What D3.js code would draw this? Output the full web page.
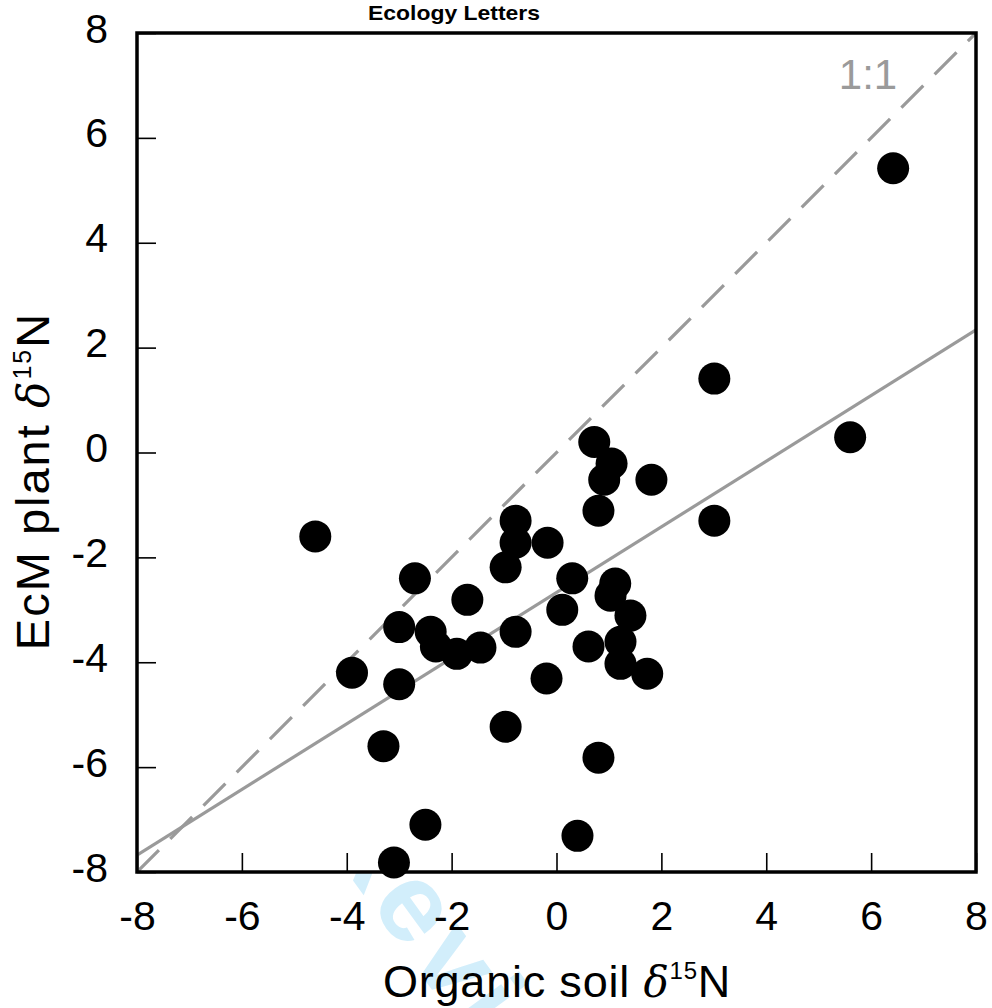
<!DOCTYPE html>
<html><head><meta charset="utf-8">
<script src="https://cdn.jsdelivr.net/npm/d3@7"></script>
<style>
html,body{margin:0;padding:0;background:#fff;}
svg{display:block;font-family:"Liberation Sans",Arial,Helvetica,sans-serif;}
</style></head>
<body>
<svg id="chart" width="992" height="1008"></svg>
<script>
// Data
const soilN = [-4.6,-3.9,-3.3,-3.1,-3.0,-3.0,-2.7,-2.5,-2.4,-2.3,-1.9,-1.7,-1.45,-0.97,-0.97,-0.78,-0.78,-0.78,-0.19,-0.17,0.11,0.3,0.4,0.61,0.72,0.8,0.8,0.91,1.05,1.03,1.12,1.22,1.22,1.41,1.73,1.81,3.01,3.01,5.6,6.42];
const plantN = [-1.6,-4.2,-5.6,-7.82,-3.33,-4.42,-2.4,-7.1,-3.42,-3.7,-3.84,-2.81,-3.72,-2.19,-5.23,-1.3,-1.72,-3.42,-4.31,-1.72,-3.0,-2.4,-7.31,-3.7,0.2,-5.82,-1.11,-0.52,-0.21,-2.73,-2.5,-3.61,-4.03,-3.11,-4.22,-0.52,1.41,-1.3,0.29,5.42];
const xTicks = [-8,-6,-4,-2,0,2,4,6,8];
const yTicks = [-8,-6,-4,-2,0,2,4,6,8];
const regSlope = [0.626];
const regIntercept = [-2.67];
const oneToOne = [-8, 8];

const svg = d3.select("#chart");
const x = d3.scaleLinear().domain([-8,8]).range([137,976]);
const y = d3.scaleLinear().domain([-8,8]).range([872,33]);

// watermark
const wm = svg.append("g");
const wmSize = 112;
const wmText = wm.append("text").text("For Review Only")
  .attr("font-size", wmSize).attr("font-weight", "bold").attr("fill", "#d2eefb")
  .attr("letter-spacing", 6).attr("x", 0).attr("y", 0);
const node = wmText.node();
const idx = 5; // 'e' in Review
const sp = node.getStartPositionOfChar(idx);
const cw = node.getSubStringLength(idx,1);
const cx0 = sp.x + cw/2, cy0 = sp.y - 0.27*wmSize;
const ang = 54, rad = ang*Math.PI/180;
const rx = cx0*Math.cos(rad) - cy0*Math.sin(rad);
const ry = cx0*Math.sin(rad) + cy0*Math.cos(rad);
wm.attr("transform", `translate(${413-rx},${912-ry}) rotate(${ang})`);

// plot background
svg.append("rect").attr("x", x(-8)).attr("y", y(8))
  .attr("width", x(8)-x(-8)).attr("height", y(-8)-y(8)).attr("fill", "#fff");

svg.append("clipPath").attr("id","clip").append("rect")
  .attr("x", x(-8)).attr("y", y(8)).attr("width", x(8)-x(-8)).attr("height", y(-8)-y(8));

// axes
const xAxis = svg.append("g").attr("transform", `translate(0,${y(-8)})`)
  .call(d3.axisBottom(x).tickValues(xTicks).tickSize(-19).tickPadding(29).tickFormat(d3.format("d")));
const yAxis = svg.append("g").attr("transform", `translate(${x(-8)},0)`)
  .call(d3.axisLeft(y).tickValues(yTicks).tickSize(-19).tickPadding(29).tickFormat(d3.format("d")));
[xAxis, yAxis].forEach(a => {
  a.select(".domain").remove();
  a.selectAll(".tick line").attr("stroke", "#000").attr("stroke-width", 1.6);
  a.selectAll(".tick text").attr("font-size", 41).attr("fill", "#000")
    .attr("font-family", '"Liberation Sans",Arial,sans-serif');
});
xAxis.selectAll(".tick text").text(d => d < 0 ? "-" + Math.abs(d) : d);
yAxis.selectAll(".tick text").text(d => d < 0 ? "-" + Math.abs(d) : d).attr("dy", "0.22em");

// lines
const g = svg.append("g").attr("clip-path", "url(#clip)");
g.append("line")
  .attr("x1", x(oneToOne[0])).attr("y1", y(oneToOne[0]))
  .attr("x2", x(oneToOne[1])).attr("y2", y(oneToOne[1]))
  .attr("stroke", "#9a9a9a").attr("stroke-width", 3.2).attr("stroke-dasharray", "31,16");
g.append("line")
  .attr("x1", x(-8)).attr("y1", y(regIntercept[0] + regSlope[0]*-8))
  .attr("x2", x(8)).attr("y2", y(regIntercept[0] + regSlope[0]*8))
  .attr("stroke", "#9a9a9a").attr("stroke-width", 3.2);

// points
svg.append("g").selectAll("circle").data(soilN.map((d,i)=>[d, plantN[i]]))
  .join("circle").attr("cx", d => x(d[0])).attr("cy", d => y(d[1])).attr("r", 16).attr("fill", "#000");

// frame
svg.append("rect").attr("x", x(-8)).attr("y", y(8))
  .attr("width", x(8)-x(-8)).attr("height", y(-8)-y(8))
  .attr("fill", "none").attr("stroke", "#000").attr("stroke-width", 3.5);

// 1:1 label
svg.append("text").attr("x", 868).attr("y", 89).attr("text-anchor", "middle")
  .attr("font-size", 42).attr("fill", "#9a9a9a").text("1:1");

// title
svg.append("text").attr("x", 454).attr("y", 20).attr("text-anchor", "middle")
  .attr("font-size", 21).attr("font-weight", "bold").attr("fill", "#000")
  .attr("textLength", 172).attr("lengthAdjust", "spacingAndGlyphs").text("Ecology Letters");

// axis titles
const xt = svg.append("text").attr("x", 557).attr("y", 997).attr("text-anchor", "middle")
  .attr("font-size", 45).attr("fill", "#000").attr("letter-spacing", 0.8);
xt.append("tspan").text("Organic soil ");
xt.append("tspan").attr("font-style", "italic").attr("font-family", '"DejaVu Serif",serif').attr("font-size", 42).text("δ");
xt.append("tspan").attr("font-size", 24).attr("dy", -18).text("15");
xt.append("tspan").attr("dy", 18).text("N");

const yt = svg.append("text").attr("transform", "translate(49,481) rotate(-90)").attr("text-anchor", "middle")
  .attr("font-size", 47).attr("fill", "#000").attr("letter-spacing", 2);
yt.append("tspan").text("EcM plant ");
yt.append("tspan").attr("font-style", "italic").attr("font-family", '"DejaVu Serif",serif').attr("font-size", 44).text("δ");
yt.append("tspan").attr("font-size", 25).attr("dy", -18).text("15");
yt.append("tspan").attr("dy", 18).text("N");
</script>
</body></html>
